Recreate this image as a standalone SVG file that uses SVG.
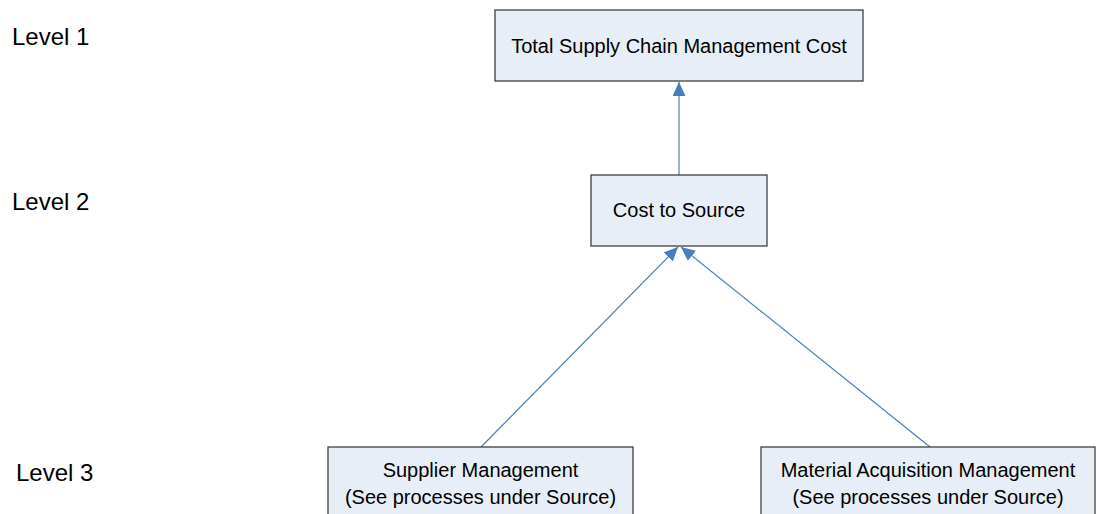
<svg xmlns="http://www.w3.org/2000/svg" width="1096" height="514" viewBox="0 0 1096 514">
<style>
.box{fill:#E8EEF7;stroke:#3f3f3f;stroke-width:1.3}
.t{font-family:"Liberation Sans",Arial,sans-serif;font-size:20px;fill:#000;text-anchor:middle}
.lv{font-family:"Liberation Sans",Arial,sans-serif;font-size:24px;fill:#000}
.c{stroke:#4A7EBB;stroke-width:1.2;fill:none}
</style>
<defs>
<marker id="ah" markerUnits="userSpaceOnUse" markerWidth="15" markerHeight="14" refX="14" refY="6.5" orient="auto">
<path d="M0,0 L14,6.5 L0,13 z" fill="#4A7EBB"/>
</marker>
</defs>
<rect width="1096" height="514" fill="#fff"/>
<g id="labels">
<text class="lv" x="12" y="45">Level 1</text>
<text class="lv" x="12" y="210">Level 2</text>
<text class="lv" x="16" y="481">Level 3</text>
</g>
<g id="connectors">
<line class="c" x1="679" y1="175" x2="679" y2="82" marker-end="url(#ah)"/>
<line class="c" x1="481" y1="447" x2="678" y2="247" marker-end="url(#ah)"/>
<line class="c" x1="930" y1="447" x2="681" y2="247" marker-end="url(#ah)"/>
</g>
<g id="n1">
<rect class="box" x="495" y="10" width="368" height="71"/>
<text class="t" x="679" y="52.5">Total Supply Chain Management Cost</text>
</g>
<g id="n2">
<rect class="box" x="591" y="175" width="176" height="71"/>
<text class="t" x="679" y="217">Cost to Source</text>
</g>
<g id="n3">
<rect class="box" x="328" y="447" width="305" height="80"/>
<text class="t" x="480.5" y="477">Supplier Management</text>
<text class="t" x="480.5" y="504">(See processes under Source)</text>
</g>
<g id="n4">
<rect class="box" x="761" y="447" width="334" height="80"/>
<text class="t" x="928" y="477">Material Acquisition Management</text>
<text class="t" x="928" y="504">(See processes under Source)</text>
</g>
</svg>
